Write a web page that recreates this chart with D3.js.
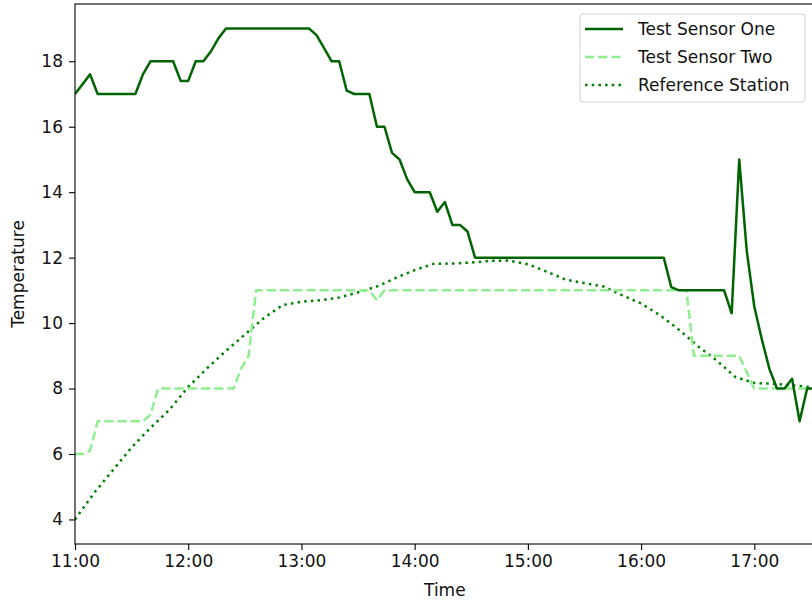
<!DOCTYPE html>
<html>
<head>
<meta charset="utf-8">
<script src="https://cdn.jsdelivr.net/npm/d3@7"></script>
<style>
  html, body { margin: 0; padding: 0; background: #fff; }
  svg { display: block; font-family: "DejaVu Sans", sans-serif; }
</style>
</head>
<body>
<svg id="chart" width="812" height="602"></svg>
<script>
// ---- data ----
const seriesNames = ["Test Sensor One", "Test Sensor Two", "Reference Station"];

const sensorOneTimes = ["11:00","11:08","11:12","11:32","11:36","11:40","11:52","11:56","12:00","12:04","12:08","12:12","12:16","12:20",
  "13:04","13:08","13:12","13:16","13:20","13:24","13:28","13:36","13:40","13:44","13:48","13:52","13:56","14:00","14:08","14:12",
  "14:16","14:20","14:24","14:28","14:32","16:12","16:16","16:20","16:44","16:48","16:52","16:56","17:00","17:04","17:08","17:12",
  "17:16","17:20","17:24","17:28","17:32"];
const sensorOneValues = [17.0,17.6,17.0,17.0,17.6,18.0,18.0,17.4,17.4,18.0,18.0,18.3,18.7,19.0,
  19.0,18.8,18.4,18.0,18.0,17.1,17.0,17.0,16.0,16.0,15.2,15.0,14.4,14.0,14.0,13.4,
  13.7,13.0,13.0,12.8,12.0,12.0,11.1,11.0,11.0,10.3,15.0,12.2,10.5,9.5,8.6,8.0,
  8.0,8.3,7.0,8.0,8.0];

const sensorTwoTimes = ["11:00","11:04","11:08","11:12","11:36","11:40","11:44","12:24","12:28","12:32","12:36",
  "13:36","13:40","13:44","16:24","16:28","16:52","16:56","17:00","17:32"];
const sensorTwoValues = [6.0,6.0,6.1,7.0,7.0,7.2,8.0,8.0,8.6,9.0,11.0,11.0,10.7,11.0,11.0,9.0,9.0,8.5,8.0,8.0];

const referenceTimes = ["11:00","11:10","11:20","11:30","11:40","11:50","12:00","12:10","12:20","12:30","12:40","12:50",
  "13:00","13:10","13:20","13:30","13:40","13:50","14:00","14:10","14:20","14:30","14:40","14:50","15:00","15:10",
  "15:20","15:30","15:40","15:50","16:00","16:10","16:20","16:30","16:40","16:50","17:00","17:10","17:20","17:30"];
const referenceValues = [4.0,4.8,5.5,6.2,6.8,7.35,8.05,8.62,9.15,9.65,10.15,10.55,
  10.65,10.7,10.78,10.94,11.12,11.38,11.62,11.81,11.82,11.85,11.9,11.91,11.8,11.57,
  11.33,11.22,11.12,10.85,10.6,10.24,9.8,9.3,8.86,8.35,8.17,8.15,8.1,8.04];

const xDomain = ["11:00", "17:32"];
const xTickLabels = ["11:00","12:00","13:00","14:00","15:00","16:00","17:00"];
const yTicks = [4, 6, 8, 10, 12, 14, 16, 18];
const yDomain = [3.25, 19.75];

// ---- layout ----
const parse = d3.timeParse("%H:%M");
const fmt = d3.timeFormat("%H:%M");
const M = { left: 75, right: 814.7, top: 4, bottom: 544 };
const FONT = 17;
const TXT = "#111";

const svg = d3.select("#chart");
const x = d3.scaleTime().domain(xDomain.map(parse)).range([M.left, M.right]);
const y = d3.scaleLinear().domain(yDomain).range([M.bottom, M.top]);

const series = [
  { name: seriesNames[0], times: sensorOneTimes, values: sensorOneValues, color: "#006400", dash: null },
  { name: seriesNames[1], times: sensorTwoTimes, values: sensorTwoValues, color: "#90ee90", dash: "9.2,4" },
  { name: seriesNames[2], times: referenceTimes, values: referenceValues, color: "#008000", dash: "2.5,4.2" }
];

svg.append("defs").append("clipPath").attr("id", "clip")
  .append("rect").attr("x", M.left).attr("y", M.top).attr("width", M.right - M.left).attr("height", M.bottom - M.top);

const line = d3.line().x(d => x(d[0])).y(d => y(d[1]));

const plot = svg.append("g").attr("clip-path", "url(#clip)");
series.slice().reverse().forEach(s => {
  const pts = s.times.map((t, i) => [parse(t), s.values[i]]);
  plot.append("path")
    .datum(pts)
    .attr("d", line)
    .attr("fill", "none")
    .attr("stroke", s.color)
    .attr("stroke-width", 2.5)
    .attr("stroke-linejoin", "round")
    .attr("stroke-dasharray", s.dash);
});

// axes
const xAxis = d3.axisBottom(x)
  .tickValues(xTickLabels.map(parse))
  .tickFormat(fmt)
  .tickSize(6).tickPadding(5);
const gx = svg.append("g").attr("transform", `translate(0,${M.bottom})`).call(xAxis);
const yAxis = d3.axisLeft(y).tickValues(yTicks).tickSize(6).tickPadding(6);
const gy = svg.append("g").attr("transform", `translate(${M.left},0)`).call(yAxis);
[gx, gy].forEach(g => {
  g.select(".domain").remove();
  g.selectAll(".tick line").attr("stroke", "#000").attr("stroke-width", 1.1);
  g.selectAll(".tick text").attr("fill", TXT).style("font-size", FONT + "px")
    .style("font-family", "'DejaVu Sans', sans-serif");
});

// spines
svg.append("rect").attr("x", M.left).attr("y", M.top).attr("width", M.right - M.left).attr("height", M.bottom - M.top)
  .attr("fill", "none").attr("stroke", "#000").attr("stroke-width", 1.1);

// axis labels
svg.append("text").attr("x", (M.left + M.right) / 2).attr("y", 596).attr("text-anchor", "middle")
  .style("font-size", FONT + "px").attr("fill", TXT).text("Time");
svg.append("text").attr("transform", `translate(24,${(M.top + M.bottom) / 2}) rotate(-90)`).attr("text-anchor", "middle")
  .style("font-size", FONT + "px").attr("fill", TXT).text("Temperature");

// legend
const lg = svg.append("g");
lg.append("rect").attr("x", 580).attr("y", 14).attr("width", 225).attr("height", 88)
  .attr("rx", 3).attr("fill", "#fff").attr("fill-opacity", 0.8).attr("stroke", "#d0d0d0").attr("stroke-width", 1);
series.forEach((s, i) => {
  const cy = 29 + i * 28;
  lg.append("line").attr("x1", 585).attr("x2", 623).attr("y1", cy).attr("y2", cy)
    .attr("stroke", s.color).attr("stroke-width", 2.5).attr("stroke-dasharray", s.dash);
  lg.append("text").attr("x", 638).attr("y", cy + 6).style("font-size", FONT + "px").attr("fill", TXT).text(s.name);
});
</script>
</body>
</html>
